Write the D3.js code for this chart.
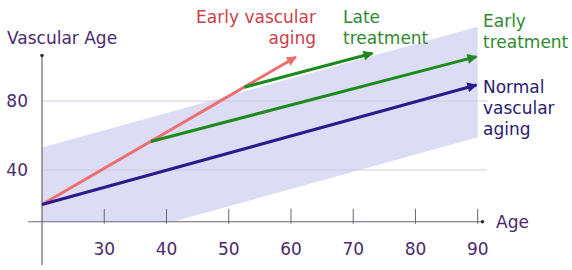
<!DOCTYPE html>
<html>
<head>
<meta charset="utf-8">
<script src="https://cdn.jsdelivr.net/npm/d3@7"></script>
<style>
  html, body { margin: 0; padding: 0; background: #fff; }
  svg { display: block; font-family: "DejaVu Sans", sans-serif; }
</style>
</head>
<body>
<svg id="chart" width="572" height="270"></svg>
<script>
// Vascular age vs. chronological age

const ageTicks = [30, 40, 50, 60, 70, 80, 90];
const vascTicks = [40, 80];

// [age, vascular age] pairs
const normalAging = [[20, 20], [89.8, 89.3]];
const earlyAging = [[20, 20], [60.8, 105.5]];
const earlyTreatment = [[37.5, 56.5], [89.8, 105.7]];
const lateTreatment = [[52.5, 88], [73.1, 107.7]];
// shaded normal range (normal ± ~32), cut at the age axis
const normalBand = [[20, 10], [20, 53], [90, 123], [90, 59], [41, 10]];

const svg = d3.select('#chart');

const x = d3.scaleLinear().domain([20, 90]).range([42, 477.7]);
const y = d3.scaleLinear().domain([40, 80]).range([170, 101]);

const axisColor = '#6b6475';
const textColor = '#4a2a6c';
const fontSize = 17;

// band
svg.append('path')
  .datum(normalBand)
  .attr('d', d3.line().x(d => x(d[0])).y(d => y(d[1])))
  .attr('fill', '#dcdcf4');

// horizontal grid lines
svg.selectAll('.grid')
  .data(vascTicks)
  .join('line')
  .attr('x1', x(20)).attr('x2', 487)
  .attr('y1', d => y(d)).attr('y2', d => y(d))
  .attr('stroke', '#cfcbe0').attr('stroke-width', 1);

// axes
const axes = svg.append('g');
axes.append('line')
  .attr('x1', 28).attr('x2', 482)
  .attr('y1', y(10)).attr('y2', y(10))
  .attr('stroke', axisColor).attr('stroke-width', 1.2);
axes.append('line')
  .attr('x1', x(20)).attr('x2', x(20))
  .attr('y1', 265).attr('y2', 56)
  .attr('stroke', axisColor).attr('stroke-width', 1.2);
axes.append('circle').attr('cx', 482.5).attr('cy', y(10)).attr('r', 1.8).attr('fill', '#333');
axes.append('circle').attr('cx', x(20)).attr('cy', 55.5).attr('r', 1.8).attr('fill', '#333');

// x ticks and labels
axes.selectAll('.tick')
  .data(ageTicks)
  .join('line')
  .attr('x1', d => x(d)).attr('x2', d => x(d))
  .attr('y1', y(10) - 13).attr('y2', y(10) + 2)
  .attr('stroke', axisColor).attr('stroke-width', 1);
axes.selectAll('.xlab')
  .data(ageTicks)
  .join('text')
  .attr('x', d => x(d)).attr('y', 255)
  .attr('text-anchor', 'middle')
  .attr('font-size', fontSize).attr('fill', textColor)
  .text(d => d);

// y labels
axes.selectAll('.ylab')
  .data(vascTicks)
  .join('text')
  .attr('x', 28).attr('y', d => y(d) + 6)
  .attr('text-anchor', 'end')
  .attr('font-size', fontSize).attr('fill', textColor)
  .text(d => d);

axes.append('text').attr('x', 7).attr('y', 44)
  .attr('font-size', fontSize).attr('fill', textColor).text('Vascular Age');
axes.append('text').attr('x', 496).attr('y', 228)
  .attr('font-size', fontSize).attr('fill', textColor).text('Age');

// arrow markers
const defs = svg.append('defs');
function marker(id, color) {
  defs.append('marker')
    .attr('id', id)
    .attr('viewBox', '0 0 10 10')
    .attr('refX', 9).attr('refY', 5)
    .attr('markerUnits', 'userSpaceOnUse')
    .attr('markerWidth', 12).attr('markerHeight', 10)
    .attr('orient', 'auto')
    .append('path').attr('d', 'M0,0 L10,5 L0,10 Z').attr('fill', color);
}

const series = [
  { id: 'red', data: earlyAging, color: '#ec6e6e' },
  { id: 'navy', data: normalAging, color: '#2b1a8c' },
  { id: 'green1', data: earlyTreatment, color: '#1d8a1d' },
  { id: 'green2', data: lateTreatment, color: '#1d8a1d' }
];

const line = d3.line().x(d => x(d[0])).y(d => y(d[1]));
series.forEach(s => {
  marker('arr-' + s.id, s.color);
  svg.append('path')
    .datum(s.data)
    .attr('d', line)
    .attr('fill', 'none')
    .attr('stroke', s.color)
    .attr('stroke-width', 3)
    .attr('marker-end', `url(#arr-${s.id})`);
});

// labels
function label(lines, xPos, yPos, anchor, color) {
  const t = svg.append('text')
    .attr('x', xPos).attr('y', yPos)
    .attr('text-anchor', anchor)
    .attr('font-size', fontSize).attr('fill', color);
  lines.forEach((l, i) => {
    t.append('tspan').attr('x', xPos).attr('dy', i === 0 ? 0 : 21).text(l);
  });
}

label(['Early vascular', 'aging'], 316, 23, 'end', '#c9414b');
label(['Late', 'treatment'], 343, 23, 'start', '#2f8a2f');
label(['Early', 'treatment'], 483, 27, 'start', '#2f8a2f');
label(['Normal', 'vascular', 'aging'], 483, 93, 'start', '#2b1a6e');
</script>
</body>
</html>
